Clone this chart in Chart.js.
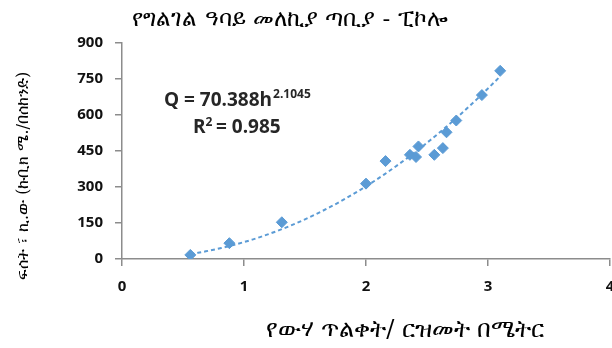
<!DOCTYPE html>
<html>
<head>
<meta charset="utf-8">
<script src="https://cdn.jsdelivr.net/npm/chart.js@4.4.1/dist/chart.umd.min.js"></script>
<style>
  html, body { margin: 0; padding: 0; background: #fff; }
  #wrap { width: 612px; height: 348px; }
</style>
</head>
<body>
<div id="wrap"><canvas id="myChart" width="612" height="348"></canvas></div>
<script>
// water depth (m) and discharge
const depth = [0.56, 0.88, 1.31, 2.00, 2.16, 2.36, 2.41, 2.43, 2.56, 2.63, 2.66, 2.74, 2.95, 3.10];
const discharge = [17, 66, 153, 314, 408, 434, 425, 469, 434, 462, 528, 577, 683, 784];
const yTicks = [0, 150, 300, 450, 600, 750, 900];
const xTicks = [0, 1, 2, 3, 4];

// power trendline as printed on the chart
const coefA = 70.388;
const coefB = 2.1045;
const rSquared = 0.985;

const chartTitle = 'የግልገል ዓባይ መለኪያ ጣቢያ - ፒኮሎ';
const xTitle = 'የውሃ ጥልቀት/ ርዝመት በሜትር';
const yTitle = 'ፍሰት ፣ ኪ.ው (ኩቢክ ሜ./በሰከንድ)';

const pointColor = '#5b9bd5';

function trendPoints() {
    let lo = Math.min(...depth), hi = Math.max(...depth);
    let pts = [];
    for (let i = 0; i <= 40; i++) {
        let h = lo + (hi - lo) * i / 40;
        pts.push({x: h, y: coefA * Math.pow(h, coefB)});
    }
    return pts;
}

const textPlugin = {
    id: 'texts',
    afterDraw(chart) {
        const ctx = chart.ctx;
        ctx.save();
        ctx.fillStyle = '#000';
        ctx.textAlign = 'center';
        ctx.textBaseline = 'middle';
        ctx.font = '23px "DejaVu Serif", serif';
        ctx.fillText(chartTitle, 290, 20);
        ctx.font = '24px "DejaVu Serif", serif';
        ctx.fillText(xTitle, 405, 331);

        ctx.save();
        ctx.translate(24, 176);
        ctx.rotate(-Math.PI / 2);
        ctx.font = '16px "DejaVu Serif", serif';
        ctx.fillText(yTitle, 0, 0);
        ctx.restore();

        // equation label
        ctx.fillStyle = '#262626';
        ctx.textAlign = 'left';
        const big = 'bold 19px "Open Sans", sans-serif';
        const small = 'bold 12px "Open Sans", sans-serif';
        ctx.font = big;
        let base = 'Q = ' + coefA + 'h';
        ctx.fillText(base, 164, 101);
        let w = ctx.measureText(base).width;
        ctx.font = small;
        ctx.fillText(String(coefB), 164 + w + 1, 95);
        ctx.font = big;
        ctx.fillText('R', 193, 128);
        let rw = ctx.measureText('R').width;
        ctx.font = small;
        ctx.fillText('2', 193 + rw, 123);
        ctx.font = big;
        ctx.fillText('= ' + rSquared, 216, 128);
        ctx.restore();
    }
};

function drawChart() {
    const ctx = document.getElementById('myChart').getContext('2d');

    const myChart = new Chart(ctx, {
        type: 'scatter',
        data: {
            datasets: [{
                data: depth.map((h, i) => ({x: h, y: discharge[i]})),
                backgroundColor: pointColor,
                borderColor: pointColor,
                pointStyle: 'rectRot',
                pointRadius: 5.5,
                order: 1
            }, {
                type: 'line',
                data: trendPoints(),
                borderColor: pointColor,
                borderWidth: 2,
                borderDash: [4, 3],
                pointRadius: 0,
                tension: 0,
                fill: false,
                order: 2
            }]
        },
        options: {
            responsive: false,
            animation: false,
            layout: { autoPadding: false, padding: { top: 43, right: 2, left: 0, bottom: 0 } },
            plugins: {
                legend: { display: false },
                tooltip: { enabled: false }
            },
            scales: {
                x: {
                    type: 'linear',
                    min: 0, max: 4,
                    afterBuildTicks: s => { s.ticks = xTicks.map(v => ({value: v})); },
                    afterFit: s => { s.height = 89; s.paddingLeft = 0; s.paddingRight = 0; },
                    grid: { drawOnChartArea: false, color: '#8c8c8c', tickLength: 7, lineWidth: 1.5 },
                    border: { color: '#8c8c8c', width: 1.5 },
                    ticks: { color: '#111', padding: 12, maxRotation: 0,
                             font: { family: 'Open Sans, sans-serif', size: 15, weight: 'bold' } }
                },
                y: {
                    min: 0, max: 900,
                    afterBuildTicks: s => { s.ticks = yTicks.map(v => ({value: v})); },
                    afterFit: s => { s.width = 122; s.paddingTop = 0; s.paddingBottom = 0; },
                    grid: { drawOnChartArea: false, color: '#8c8c8c', tickLength: 7, lineWidth: 1.5 },
                    border: { color: '#8c8c8c', width: 1.5 },
                    ticks: { color: '#111', padding: 12,
                             font: { family: 'Open Sans, sans-serif', size: 15, weight: 'bold' } }
                }
            }
        },
        plugins: [textPlugin]
    });
}

drawChart();
</script>
</body>
</html>
